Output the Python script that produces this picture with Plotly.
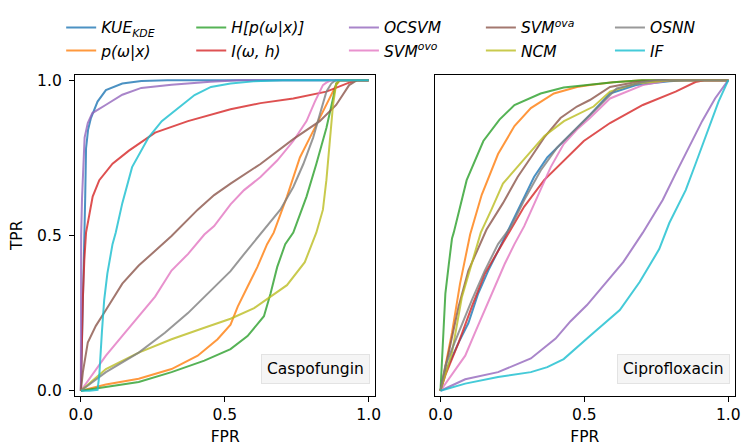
import plotly.graph_objects as go

# ---------------- data ----------------
method_names = ["<i>KUE<sub>KDE</sub></i>", "<i>p(ω|x)</i>", "<i>H[p(ω|x)]</i>", "<i>I(ω, h)</i>",
                "<i>OCSVM</i>", "<i>SVM<sup>ovo</sup></i>", "<i>SVM<sup>ova</sup></i>", "<i>NCM</i>",
                "<i>OSNN</i>", "<i>IF</i>"]
method_colors = ["#1f77b4", "#ff7f0e", "#2ca02c", "#d62728", "#9467bd",
                 "#e377c2", "#8c564b", "#bcbd22", "#7f7f7f", "#17becf"]
panel_titles = ["Caspofungin", "Ciprofloxacin"]
tick_vals = [0.0, 0.5, 1.0]
tick_text = ["0.0", "0.5", "1.0"]

# Caspofungin (left)
caspo_kue_fpr = [0, 0.004, 0.008, 0.012, 0.015, 0.018, 0.025, 0.035, 0.058, 0.087, 0.144, 0.21, 0.3, 1.0]
caspo_kue_tpr = [0, 0.15, 0.32, 0.48, 0.62, 0.78, 0.84, 0.878, 0.931, 0.968, 0.989, 0.997, 1.0, 1.0]
caspo_p_fpr = [0, 0.087, 0.201, 0.315, 0.406, 0.475, 0.52, 0.545, 0.579, 0.613, 0.647, 0.67, 0.716, 0.761, 0.807, 0.853, 0.887, 0.9, 1.0]
caspo_p_tpr = [0, 0.02, 0.039, 0.07, 0.113, 0.166, 0.213, 0.271, 0.335, 0.398, 0.472, 0.509, 0.625, 0.751, 0.836, 0.92, 0.984, 1.0, 1.0]
caspo_h_fpr = [0, 0.087, 0.201, 0.315, 0.429, 0.52, 0.579, 0.636, 0.659, 0.682, 0.71, 0.738, 0.784, 0.818, 0.853, 0.876, 0.887, 0.9, 1.0]
caspo_h_tpr = [0, 0.013, 0.028, 0.06, 0.097, 0.134, 0.176, 0.24, 0.313, 0.398, 0.472, 0.509, 0.625, 0.73, 0.846, 0.941, 0.989, 1.0, 1.0]
caspo_i_fpr = [0, 0.003, 0.007, 0.012, 0.018, 0.041, 0.064, 0.11, 0.167, 0.258, 0.372, 0.52, 0.624, 0.738, 0.853, 0.932, 0.96, 1.0]
caspo_i_tpr = [0, 0.15, 0.3, 0.42, 0.509, 0.625, 0.678, 0.731, 0.773, 0.831, 0.868, 0.906, 0.926, 0.941, 0.963, 0.992, 1.0, 1.0]
caspo_ocsvm_fpr = [0, 0.0005, 0.001, 0.004, 0.007, 0.013, 0.024, 0.04, 0.086, 0.144, 0.21, 0.315, 0.45, 0.55, 1.0]
caspo_ocsvm_tpr = [0, 0.2, 0.5, 0.62, 0.709, 0.815, 0.862, 0.894, 0.92, 0.953, 0.975, 0.985, 0.995, 1.0, 1.0]
caspo_ovo_fpr = [0, 0.03, 0.087, 0.144, 0.201, 0.258, 0.315, 0.372, 0.429, 0.463, 0.52, 0.567, 0.624, 0.682, 0.738, 0.784, 0.813, 0.841, 0.853, 0.87, 1.0]
caspo_ovo_tpr = [0, 0.039, 0.113, 0.177, 0.24, 0.303, 0.387, 0.44, 0.503, 0.53, 0.6, 0.646, 0.688, 0.741, 0.804, 0.868, 0.931, 0.984, 0.992, 1.0, 1.0]
caspo_ova_fpr = [0, 0.007, 0.024, 0.052, 0.087, 0.144, 0.201, 0.258, 0.315, 0.406, 0.463, 0.52, 0.624, 0.738, 0.83, 0.887, 0.932, 0.95, 0.96, 1.0]
caspo_ova_tpr = [0, 0.06, 0.155, 0.209, 0.26, 0.345, 0.403, 0.45, 0.498, 0.583, 0.63, 0.667, 0.73, 0.81, 0.868, 0.92, 0.984, 0.994, 1.0, 1.0]
caspo_ncm_fpr = [0, 0.087, 0.201, 0.315, 0.429, 0.52, 0.602, 0.716, 0.778, 0.801, 0.818, 0.841, 0.853, 0.864, 0.876, 0.887, 0.9, 1.0]
caspo_ncm_tpr = [0, 0.07, 0.123, 0.166, 0.203, 0.232, 0.266, 0.34, 0.414, 0.472, 0.509, 0.583, 0.678, 0.794, 0.92, 0.989, 1.0, 1.0]
caspo_osnn_fpr = [0, 0.087, 0.201, 0.292, 0.372, 0.452, 0.52, 0.567, 0.624, 0.693, 0.738, 0.773, 0.807, 0.83, 0.853, 0.87, 0.885, 1.0]
caspo_osnn_tpr = [0, 0.06, 0.123, 0.187, 0.25, 0.324, 0.385, 0.44, 0.505, 0.583, 0.656, 0.73, 0.815, 0.888, 0.963, 0.989, 1.0, 1.0]
caspo_if_fpr = [0, 0.03, 0.058, 0.064, 0.073, 0.081, 0.092, 0.11, 0.121, 0.144, 0.178, 0.235, 0.281, 0.338, 0.395, 0.452, 0.52, 0.6, 0.7, 1.0]
caspo_if_tpr = [0, 0.0, 0.003, 0.05, 0.187, 0.292, 0.377, 0.472, 0.509, 0.604, 0.72, 0.815, 0.868, 0.91, 0.952, 0.978, 0.989, 0.996, 1.0, 1.0]

# Ciprofloxacin (right)
cipro_kue_fpr = [0, 0.017, 0.063, 0.097, 0.131, 0.166, 0.2, 0.228, 0.28, 0.325, 0.371, 0.428, 0.474, 0.519, 0.589, 0.68, 0.795, 0.85, 1.0]
cipro_kue_tpr = [0, 0.06, 0.155, 0.218, 0.313, 0.387, 0.45, 0.503, 0.604, 0.688, 0.751, 0.804, 0.846, 0.888, 0.957, 0.984, 0.996, 1.0, 1.0]
cipro_p_fpr = [0, 0.02, 0.04, 0.068, 0.103, 0.143, 0.2, 0.257, 0.314, 0.394, 0.474, 0.519, 0.6, 0.7, 1.0]
cipro_p_tpr = [0, 0.09, 0.187, 0.345, 0.503, 0.63, 0.762, 0.852, 0.91, 0.957, 0.978, 0.984, 0.993, 1.0, 1.0]
cipro_h_fpr = [0, 0.008, 0.017, 0.029, 0.04, 0.046, 0.091, 0.149, 0.205, 0.257, 0.348, 0.428, 0.519, 0.6, 0.7, 1.0]
cipro_h_tpr = [0, 0.17, 0.313, 0.408, 0.49, 0.509, 0.678, 0.804, 0.873, 0.92, 0.957, 0.976, 0.986, 0.993, 1.0, 1.0]
cipro_i_fpr = [0, 0.017, 0.063, 0.109, 0.154, 0.2, 0.246, 0.291, 0.36, 0.428, 0.498, 0.589, 0.703, 0.817, 0.886, 0.92, 1.0]
cipro_i_tpr = [0, 0.05, 0.155, 0.271, 0.377, 0.45, 0.519, 0.593, 0.678, 0.741, 0.804, 0.862, 0.92, 0.963, 0.994, 1.0, 1.0]
cipro_ocsvm_fpr = [0, 0.086, 0.2, 0.314, 0.4, 0.452, 0.509, 0.578, 0.635, 0.703, 0.772, 0.817, 0.863, 0.909, 0.954, 1.0]
cipro_ocsvm_tpr = [0, 0.037, 0.06, 0.104, 0.168, 0.224, 0.276, 0.35, 0.414, 0.509, 0.614, 0.699, 0.783, 0.868, 0.941, 1.0]
cipro_ovo_fpr = [0, 0.029, 0.086, 0.12, 0.154, 0.188, 0.223, 0.257, 0.291, 0.337, 0.383, 0.428, 0.474, 0.519, 0.589, 0.703, 0.8, 1.0]
cipro_ovo_tpr = [0, 0.039, 0.113, 0.187, 0.26, 0.335, 0.408, 0.472, 0.53, 0.625, 0.72, 0.794, 0.841, 0.878, 0.941, 0.984, 1.0, 1.0]
cipro_ova_fpr = [0, 0.029, 0.063, 0.097, 0.143, 0.16, 0.217, 0.268, 0.314, 0.36, 0.417, 0.474, 0.519, 0.589, 0.68, 0.78, 1.0]
cipro_ova_tpr = [0, 0.123, 0.271, 0.387, 0.482, 0.519, 0.604, 0.688, 0.751, 0.815, 0.878, 0.915, 0.936, 0.978, 0.994, 1.0, 1.0]
cipro_ncm_fpr = [0, 0.04, 0.074, 0.12, 0.14, 0.177, 0.217, 0.29, 0.361, 0.429, 0.532, 0.589, 0.68, 0.8, 1.0]
cipro_ncm_tpr = [0, 0.123, 0.3, 0.45, 0.509, 0.583, 0.667, 0.745, 0.82, 0.868, 0.915, 0.963, 0.989, 1.0, 1.0]
cipro_osnn_fpr = [0, 0.017, 0.063, 0.109, 0.154, 0.2, 0.246, 0.291, 0.348, 0.405, 0.474, 0.519, 0.612, 0.7, 0.75, 1.0]
cipro_osnn_tpr = [0, 0.081, 0.187, 0.292, 0.387, 0.472, 0.53, 0.614, 0.709, 0.783, 0.846, 0.888, 0.973, 0.993, 1.0, 1.0]
cipro_if_fpr = [0, 0.086, 0.2, 0.314, 0.371, 0.428, 0.519, 0.566, 0.623, 0.692, 0.726, 0.76, 0.795, 0.852, 0.886, 0.932, 0.966, 1.0]
cipro_if_tpr = [0, 0.023, 0.044, 0.06, 0.076, 0.102, 0.176, 0.213, 0.26, 0.35, 0.403, 0.456, 0.54, 0.646, 0.73, 0.846, 0.931, 1.0]

caspo_curves = [(caspo_kue_fpr, caspo_kue_tpr), (caspo_p_fpr, caspo_p_tpr), (caspo_h_fpr, caspo_h_tpr),
                (caspo_i_fpr, caspo_i_tpr), (caspo_ocsvm_fpr, caspo_ocsvm_tpr), (caspo_ovo_fpr, caspo_ovo_tpr),
                (caspo_ova_fpr, caspo_ova_tpr), (caspo_ncm_fpr, caspo_ncm_tpr), (caspo_osnn_fpr, caspo_osnn_tpr),
                (caspo_if_fpr, caspo_if_tpr)]
cipro_curves = [(cipro_kue_fpr, cipro_kue_tpr), (cipro_p_fpr, cipro_p_tpr), (cipro_h_fpr, cipro_h_tpr),
                (cipro_i_fpr, cipro_i_tpr), (cipro_ocsvm_fpr, cipro_ocsvm_tpr), (cipro_ovo_fpr, cipro_ovo_tpr),
                (cipro_ova_fpr, cipro_ova_tpr), (cipro_ncm_fpr, cipro_ncm_tpr), (cipro_osnn_fpr, cipro_osnn_tpr),
                (cipro_if_fpr, cipro_if_tpr)]

# ---------------- figure ----------------
W, H = 745, 446
FONT = "DejaVu Sans"
FS = 15.5

fig = go.Figure()
legend_keys = ["legend", "legend2", "legend3", "legend4", "legend5"]

for panel, curves in enumerate([caspo_curves, cipro_curves]):
    xa = "x" if panel == 0 else "x2"
    ya = "y" if panel == 0 else "y2"
    for i, (fx, ty) in enumerate(curves):
        fig.add_trace(go.Scatter(
            x=fx, y=ty, mode="lines", name=method_names[i],
            line=dict(color=method_colors[i], width=2), opacity=0.8,
            xaxis=xa, yaxis=ya,
            showlegend=(panel == 0), legend=legend_keys[i // 2],
        ))

def px_x(p):
    return p / W

def px_y(p):
    return 1 - p / H

xdom1 = [px_x(70), px_x(375)]
xdom2 = [px_x(435), px_x(740)]
ydom = [px_y(399), px_y(73)]
xr = [-0.0205, 1.0235]
yr = [-0.016, 1.017]

axis_common = dict(
    showline=True, mirror=True, linecolor="black", linewidth=1.2,
    ticklen=5, tickwidth=1.2, tickcolor="black",
    showgrid=False, zeroline=False,
    tickfont=dict(family=FONT, size=FS, color="black"),
)

fig.update_layout(
    width=W, height=H,
    margin=dict(l=0, r=0, t=0, b=0),
    paper_bgcolor="white", plot_bgcolor="white",
    font=dict(family=FONT, size=FS, color="black"),
    xaxis=dict(domain=xdom1, range=xr, anchor="y", tickvals=tick_vals, ticktext=tick_text, ticks="outside",
               title=dict(text="FPR", font=dict(family=FONT, size=FS), standoff=10), **axis_common),
    yaxis=dict(domain=ydom, range=yr, anchor="x", tickvals=tick_vals, ticktext=tick_text, ticks="outside",
               ticklabelstandoff=4,
               title=dict(text="TPR", font=dict(family=FONT, size=FS), standoff=10), **axis_common),
    xaxis2=dict(domain=xdom2, range=xr, anchor="y2", tickvals=tick_vals, ticktext=tick_text, ticks="outside",
                title=dict(text="FPR", font=dict(family=FONT, size=FS), standoff=10), **axis_common),
    yaxis2=dict(domain=ydom, range=yr, anchor="x2", tickvals=tick_vals, showticklabels=False, ticks="",
                **axis_common),
)

legend_left_px = [56, 188, 343, 482, 613]
for k, lx in zip(legend_keys, legend_left_px):
    fig.layout[k] = dict(
        x=px_x(lx), y=px_y(8), xanchor="left", yanchor="top", orientation="v",
        bgcolor="rgba(0,0,0,0)", borderwidth=0, tracegroupgap=0,
        font=dict(family=FONT, size=FS, color="black"),
    )

for panel, title in enumerate(panel_titles):
    xref = "x domain" if panel == 0 else "x2 domain"
    yref = "y domain" if panel == 0 else "y2 domain"
    fig.add_annotation(
        text=title, xref=xref, yref=yref, x=0.982, y=0.036,
        xanchor="right", yanchor="bottom", showarrow=False,
        font=dict(family=FONT, size=FS, color="black"),
        bgcolor="#f5f5f5", bordercolor="#e3e3e3", borderwidth=1, borderpad=5,
    )

fig.write_html("out.html")
